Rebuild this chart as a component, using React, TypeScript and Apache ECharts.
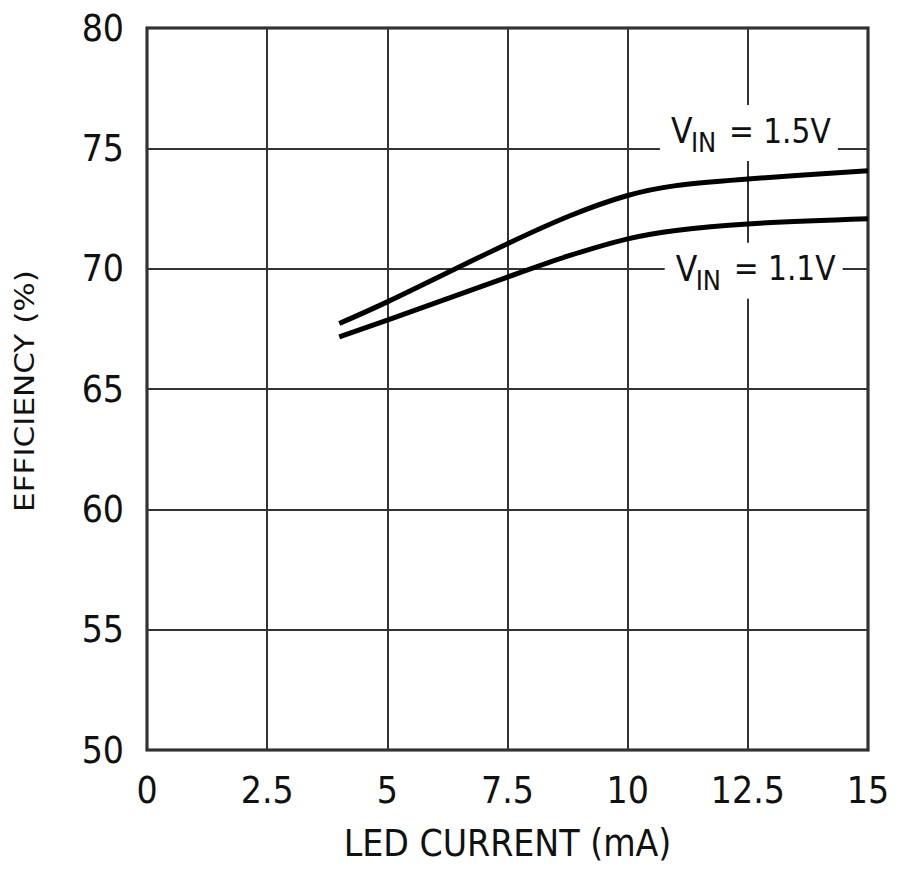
import React, { useEffect, useRef } from "react";
import * as echarts from "echarts";

// LED current (mA) and efficiency (%)
const currentHigh = [4, 5, 7.5, 8.8, 10, 11, 12.5, 15];
const effHigh = [67.72, 68.62, 71.04, 72.2, 73.04, 73.45, 73.73, 74.07];
const currentLow = [4, 5, 7.5, 8.8, 10, 11, 12.5, 15];
const effLow = [67.17, 67.86, 69.65, 70.55, 71.24, 71.59, 71.86, 72.07];
const seriesVin = ["1.5V", "1.1V"];
const labelX = [10.92, 11.02];
const labelY = [75.72, 70.0];

const xAxisTitle = "LED CURRENT (mA)";
const yAxisTitle = "EFFICIENCY (%)";

const FONT = "'Liberation Sans Narrow', 'Arial Narrow', 'DejaVu Sans Condensed', sans-serif";
const INK = "#111";

function measure(text: string, font: string): number {
  const c = document.createElement("canvas");
  const ctx = c.getContext("2d");
  if (!ctx) return text.length * 12;
  ctx.font = font;
  return ctx.measureText(text).width;
}

export default function App() {
  const ref = useRef<HTMLDivElement>(null);
  useEffect(() => {
    if (!ref.current) return;
    const chart = echarts.init(ref.current, undefined, { renderer: "svg" });
    const option: any = {
      animation: false,
      backgroundColor: "#fff",
      grid: {
        left: 147,
        right: 32,
        top: 28,
        bottom: 127,
        show: true,
        borderColor: INK,
        borderWidth: 3,
        backgroundColor: "transparent",
      },
      xAxis: {
        type: "value",
        min: 0,
        max: 15,
        interval: 2.5,
        axisLine: { show: false },
        axisTick: { show: false },
        axisLabel: { color: INK, fontSize: 37, fontFamily: FONT, margin: 22 },
        splitLine: { show: true, lineStyle: { color: "#333", width: 2 } },
        name: xAxisTitle,
        nameLocation: "middle",
        nameGap: 75,
        nameTextStyle: { color: INK, fontSize: 37, fontFamily: FONT },
      },
      yAxis: {
        type: "value",
        min: 50,
        max: 80,
        interval: 5,
        axisLine: { show: false },
        axisTick: { show: false },
        axisLabel: { color: INK, fontSize: 37, fontFamily: FONT, margin: 23 },
        splitLine: { show: true, lineStyle: { color: "#333", width: 2 } },
      },
      series: [
        {
          name: "VIN = " + seriesVin[0],
          type: "line",
          data: currentHigh.map((x, i) => [x, effHigh[i]]),
          smooth: 0.3,
          showSymbol: false,
          symbol: "none",
          lineStyle: { color: "#000", width: 5 },
          z: 5,
        },
        {
          name: "VIN = " + seriesVin[1],
          type: "line",
          data: currentLow.map((x, i) => [x, effLow[i]]),
          smooth: 0.3,
          showSymbol: false,
          symbol: "none",
          lineStyle: { color: "#000", width: 5 },
          z: 5,
        },
      ],
    };
    chart.setOption(option);

    const yFontSize = 26;
    const yFont = `${yFontSize}px ${FONT}`;
    const yW = measure(yAxisTitle, yFont);
    const ySx = 242 / yW;

    const labelGroups = seriesVin.map((v, i) => {
      const p = chart.convertToPixel({ gridIndex: 0 }, [labelX[i], labelY[i]]) as number[];
      return {
        type: "group",
        x: p[0],
        y: p[1],
        z: 10,
        children: [
          {
            type: "rect",
            shape: { x: -12, y: -26, width: 178, height: 56 },
            style: { fill: "#fff" },
            z: 10,
          },
          {
            type: "text",
            x: -1,
            y: 0,
            z: 11,
            style: {
              text: "V",
              fontSize: 35,
              fontFamily: FONT,
              fill: INK,
              align: "left",
              verticalAlign: "middle",
            },
          },
          {
            type: "text",
            x: 19,
            y: 11.5,
            z: 11,
            style: {
              text: "IN",
              fontSize: 27,
              fontFamily: FONT,
              fill: INK,
              align: "left",
              verticalAlign: "middle",
            },
          },
          {
            type: "text",
            x: 57,
            y: 0,
            z: 11,
            style: {
              text: "= " + v,
              fontSize: 33,
              fontFamily: FONT,
              fill: INK,
              align: "left",
              verticalAlign: "middle",
            },
          },
        ],
      };
    });

    chart.setOption({
      graphic: [
        {
          type: "text",
          x: 25,
          y: 391,
          rotation: Math.PI / 2,
          scaleX: ySx,
          z: 10,
          style: {
            text: yAxisTitle,
            fontSize: yFontSize,
            fontFamily: FONT,
            fill: INK,
            align: "center",
            verticalAlign: "middle",
          },
        },
        ...labelGroups,
      ],
    });

    return () => chart.dispose();
  }, []);
  return (
    <div
      ref={ref}
      style={{ position: "absolute", left: 0, top: 0, width: 900, height: 877 }}
    />
  );
}
